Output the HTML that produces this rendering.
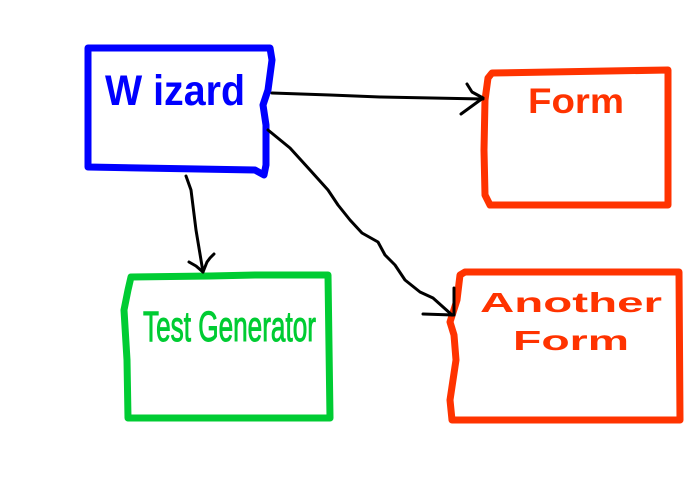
<!DOCTYPE html>
<html><head><style>html,body{margin:0;padding:0;background:#fff;}svg{display:block}</style></head>
<body>
<svg width="700" height="500" viewBox="0 0 700 500" xmlns="http://www.w3.org/2000/svg">
<g fill="none" stroke-linejoin="round" stroke-linecap="round">
<path d="M88,48 L270,48 L272,60 L268,90 L263,105 L266,125 L266,165 L264,175 L255,170 L88,167 Z" stroke="#0000ff" stroke-width="7"/>
<path d="M492,73 L668,70 L668,205 L490,205 L485,195 L484,150 L485,100 L488,78 Z" stroke="#ff3300" stroke-width="7"/>
<path d="M131,277 L210,276 L255,275 L328,275 L330,418 L128,418 L127,360 L124,310 L128,290 Z" stroke="#00cc33" stroke-width="7"/>
<path d="M465,272 L679,272 L680,420 L452,420 L450,400 L456,360 L454,335 L450,322 L457,300 L460,275 Z" stroke="#ff3300" stroke-width="7"/>
<g stroke="#000" stroke-width="3">
<path d="M272,93 L330,95 L380,97 L483,99"/>
<path d="M467,84 L472,92 L483,98 L472,106 L461,114"/>
<path d="M186,176 L191,190 L196,230 L203,272"/>
<path d="M189,262 L196,266 L203,272 L207,262 L210,258 L214,254"/>
<path d="M268,130 L290,148 L310,170 L328,190 L338,205 L350,220 L362,233 L378,242 L385,255 L395,265 L405,280 L420,292 L433,298 L452,315"/>
<path d="M454,288 L454,315"/>
<path d="M423,314 L453,315"/>
</g>
</g>
<g font-family="Liberation Sans, sans-serif" font-weight="bold">
<text x="105" y="105" font-size="43" fill="#0000ff" textLength="140" lengthAdjust="spacingAndGlyphs">W izard</text>
<text x="528" y="113" font-size="35" fill="#ff3300" textLength="96" lengthAdjust="spacingAndGlyphs">Form</text>
<text x="143" y="341" font-size="43" font-weight="normal" fill="#00cc33" textLength="173" lengthAdjust="spacingAndGlyphs" stroke="#00cc33" stroke-width="1">Test Generator</text>
<text x="480" y="312" font-size="28" fill="#ff3300" textLength="182" lengthAdjust="spacingAndGlyphs">Another</text>
<text x="513" y="350" font-size="28" fill="#ff3300" textLength="116" lengthAdjust="spacingAndGlyphs">Form</text>
</g>
</svg>
</body></html>
